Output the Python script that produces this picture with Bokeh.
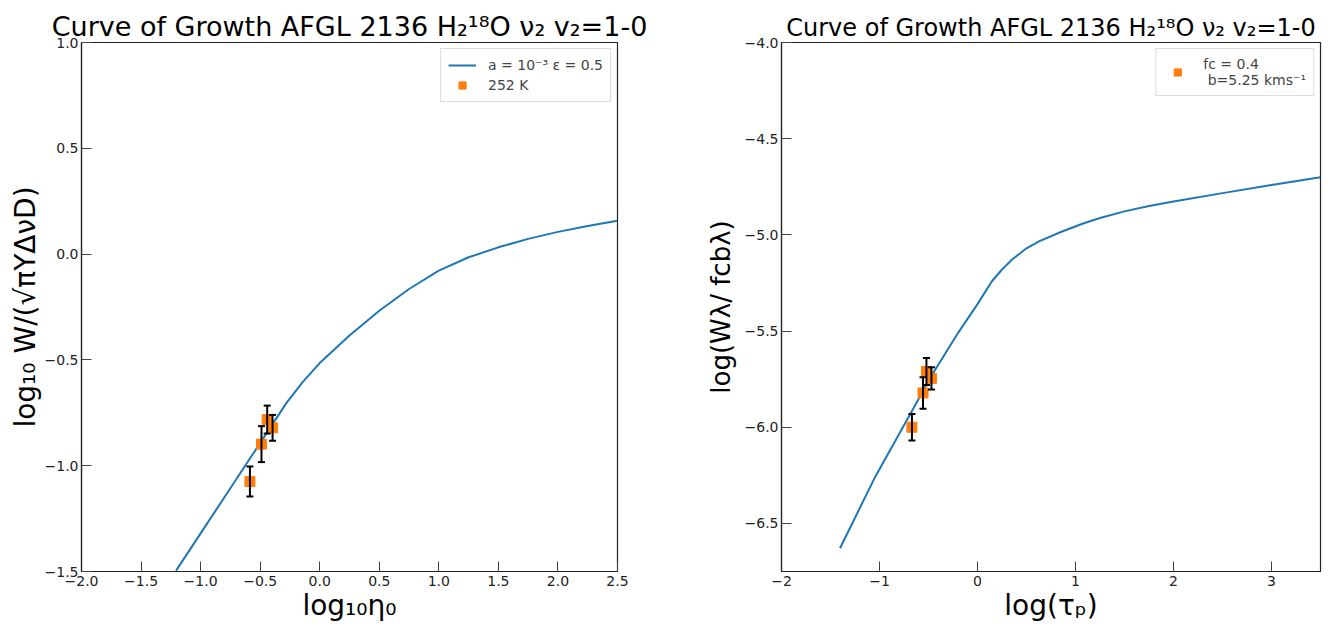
from bokeh.plotting import figure
from bokeh.layouts import row
from bokeh.models import FixedTicker, Legend, LegendItem, Range1d
from bokeh.embed import file_html
from bokeh.resources import INLINE

# ---------------- data ----------------
left_curve_x = [-1.206, -1.0, -0.8, -0.6, -0.4, -0.279, -0.14, 0.0, 0.25, 0.50,
                0.75, 1.0, 1.25, 1.5, 1.75, 2.0, 2.25, 2.50]
left_curve_y = [-1.496, -1.320, -1.149, -0.978, -0.807, -0.703, -0.603, -0.515, -0.385, -0.268,
                -0.165, -0.078, -0.015, 0.032, 0.072, 0.105, 0.133, 0.158]
left_pts_x = [-0.586, -0.489, -0.441, -0.396]
left_pts_y = [-1.075, -0.898, -0.782, -0.821]
left_pts_err = [0.071, 0.085, 0.066, 0.061]

right_curve_x = [-1.403, -1.053, -0.676, -0.470, -0.196, 0.0, 0.147, 0.25, 0.353, 0.50,
                 0.627, 0.85, 1.07, 1.25, 1.5, 1.75, 2.0, 2.5, 3.0, 3.5]
right_curve_y = [-6.629, -6.267, -5.922, -5.732, -5.508, -5.36, -5.241, -5.18, -5.128, -5.07,
                 -5.034, -4.985, -4.942, -4.912, -4.878, -4.850, -4.826, -4.783, -4.741, -4.70]
right_pts_x = [-0.669, -0.556, -0.521, -0.470]
right_pts_y = [-6.000, -5.822, -5.710, -5.746]
right_pts_err = [0.069, 0.082, 0.070, 0.058]

left_x_ticks = [-2.0, -1.5, -1.0, -0.5, 0.0, 0.5, 1.0, 1.5, 2.0, 2.5]
left_y_ticks = [-1.5, -1.0, -0.5, 0.0, 0.5, 1.0]
right_x_ticks = [-2, -1, 0, 1, 2, 3]
right_y_ticks = [-6.5, -6.0, -5.5, -5.0, -4.5, -4.0]

title_text = "Curve of Growth AFGL 2136 H₂¹⁸O ν₂ v₂=1-0"
left_xlabel = "log₁₀η₀"
left_ylabel = "log₁₀ W/(√πYΔνD)"
right_xlabel = "log(τₚ)"
right_ylabel = "log(Wλ/ fcbλ)"
left_legend = ["a = 10⁻³ ε = 0.5", "252 K"]
right_legend = "fc = 0.4\n b=5.25 kms⁻¹"

FONT = "DejaVu Sans"
C0 = "#1f77b4"
C1 = "#ff7f0e"


def fmt(v, dec):
    s = f"{v:.{dec}f}"
    return s.replace("-", "\u2212")


def make_fig(width, bl, br, xr, yr, xticks, yticks, xdec, ydec, xlabel, ylabel, ystand,
             title_size, ylabel_size):
    p = figure(width=width, height=624, output_backend="svg", toolbar_location=None,
               x_range=Range1d(*xr), y_range=Range1d(*yr),
               min_border_left=bl, min_border_right=br, min_border_top=42, min_border_bottom=51)
    p.title.text = title_text
    p.title.align = "center"
    p.title.text_font = FONT
    p.title.text_font_size = title_size
    p.title.text_font_style = "normal"
    p.title.text_color = "black"
    p.title.standoff = 2
    p.grid.visible = False
    p.outline_line_color = "#222222"
    p.outline_line_width = 1.2
    p.background_fill_color = "white"
    p.border_fill_color = "white"
    p.xaxis.ticker = FixedTicker(ticks=xticks)
    p.yaxis.ticker = FixedTicker(ticks=yticks)
    p.xaxis.major_label_overrides = {t: fmt(t, xdec) for t in xticks}
    p.yaxis.major_label_overrides = {t: fmt(t, ydec) for t in yticks}
    for ax in (p.xaxis, p.yaxis):
        ax.axis_line_color = "#222222"
        ax.axis_line_width = 1.2
        ax.major_tick_in = 10
        ax.major_tick_out = 0
        ax.major_tick_line_color = "#444444"
        ax.minor_tick_line_color = None
        ax.major_label_text_font = FONT
        ax.major_label_text_font_size = "14px"
        ax.major_label_text_color = "#222222"
        ax.axis_label_text_font = FONT
        ax.axis_label_text_font_style = "normal"
        ax.axis_label_text_color = "black"
    p.xaxis.axis_label_text_font_size = "28px"
    p.yaxis.axis_label_text_font_size = ylabel_size
    p.xaxis.major_label_standoff = 4
    p.yaxis.major_label_standoff = 3
    p.xaxis.axis_label = xlabel
    p.yaxis.axis_label = ylabel
    p.xaxis.axis_label_standoff = 0
    p.yaxis.axis_label_standoff = ystand
    return p


def add_data(p, cx, cy, px, py, perr):
    line = p.line(cx, cy, line_color=C0, line_width=2)
    sq = p.scatter(px, py, marker="square", size=10, fill_color=C1, line_color=C1)
    lo = [y - e for y, e in zip(py, perr)]
    hi = [y + e for y, e in zip(py, perr)]
    p.segment(x0=px, y0=lo, x1=px, y1=hi, line_color="black", line_width=2)
    p.scatter(px, lo, marker="dash", size=7, line_color="black", line_width=2)
    p.scatter(px, hi, marker="dash", size=7, line_color="black", line_width=2)
    return line, sq


def style_legend(lg):
    lg.location = "top_right"
    lg.label_text_font = FONT
    lg.label_text_font_size = "14px"
    lg.border_line_color = "#bbbbbb"
    lg.border_line_width = 1
    lg.background_fill_alpha = 0.9
    lg.margin = 6
    lg.padding = 7
    lg.spacing = 2
    lg.glyph_width = 28
    lg.glyph_height = 18
    lg.label_standoff = 12


p1 = make_fig(700, 81, 83, (-2.0, 2.5), (-1.5, 1.0), left_x_ticks, left_y_ticks, 1, 1,
              left_xlabel, left_ylabel, 0, "27px", "28px")
l1, s1 = add_data(p1, left_curve_x, left_curve_y, left_pts_x, left_pts_y, left_pts_err)
lg1 = Legend(items=[LegendItem(label=left_legend[0], renderers=[l1]),
                    LegendItem(label=left_legend[1], renderers=[s1])])
style_legend(lg1)
p1.add_layout(lg1)

p2 = make_fig(638, 81, 18, (-2.0, 3.5), (-6.75, -4.0), right_x_ticks, right_y_ticks, 0, 1,
              right_xlabel, right_ylabel, 6, "24px", "26px")
l2, s2 = add_data(p2, right_curve_x, right_curve_y, right_pts_x, right_pts_y, right_pts_err)
lg2 = Legend(items=[LegendItem(label=right_legend, renderers=[s2])])
style_legend(lg2)
p2.add_layout(lg2)

layout = row(p1, p2)
open("out.html", "w").write(file_html(layout, INLINE))
